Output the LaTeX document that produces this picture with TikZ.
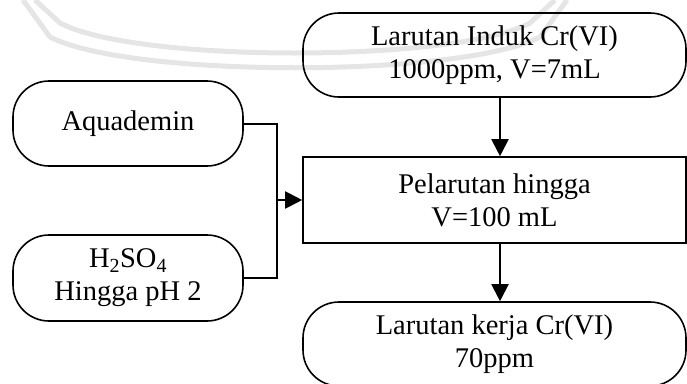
\documentclass[tikz,border=0pt]{standalone}
\usepackage{fontspec}
\setmainfont{Liberation Serif}
\usetikzlibrary{arrows.meta}
\begin{document}
\begin{tikzpicture}[x=1pt,y=-1pt,
  boxtext/.style={font=\fontsize{28.5}{33}\selectfont, align=center},
  terminal/.style={draw, line width=1.6pt, rounded corners=36pt, inner sep=0pt, boxtext},
  process/.style={draw, line width=1.6pt, inner sep=0pt, boxtext},
  flow/.style={line width=2pt},
  flowarrow/.style={flow, -{Triangle[length=17pt,width=17pt]}},
  wmline/.style={draw=black!10, line width=5pt, line join=round},
]
\useasboundingbox (0,0) rectangle (687,383);
\clip (0,0) rectangle (687,383);

% faint emblem outline in the background
\draw[wmline] (23,0) -- (50,37) .. controls (130,78) and (460,78) .. (540,37) -- (567,0);
\draw[wmline] (35,0) -- (60,23) .. controls (135,63) and (455,63) .. (530,23) -- (555,0);

% main column
\node[terminal, minimum width=383pt, minimum height=84pt] (stock) at (494.5,55)
  {Larutan Induk Cr(VI)\\1000ppm, V=7mL};
\node[process, minimum width=383pt, minimum height=86pt] (dilute) at (494.5,200)
  {Pelarutan hingga\\V=100 mL};
\node[terminal, minimum width=383pt, minimum height=84pt] (work) at (494.5,344)
  {Larutan kerja Cr(VI)\\70ppm};

% side inputs
\node[terminal, minimum width=230pt, minimum height=85pt] (water) at (128,123.5)
  {Aquademin};
\node[terminal, minimum width=230pt, minimum height=86pt] (acid) at (128,278)
  {H\textsubscript{2}SO\textsubscript{4}\\Hingga pH 2};

% connectors
\coordinate (join) at (277,200);
\draw[flow] (water.east) -| (join) |- (acid.east);
\draw[flowarrow] (join) -- (dilute.west);
\draw[flowarrow] ([xshift=5.5pt]stock.south) -- ([xshift=5.5pt]dilute.north);
\draw[flowarrow] ([xshift=5.5pt]dilute.south) -- ([xshift=5.5pt]work.north);
\end{tikzpicture}
\end{document}
